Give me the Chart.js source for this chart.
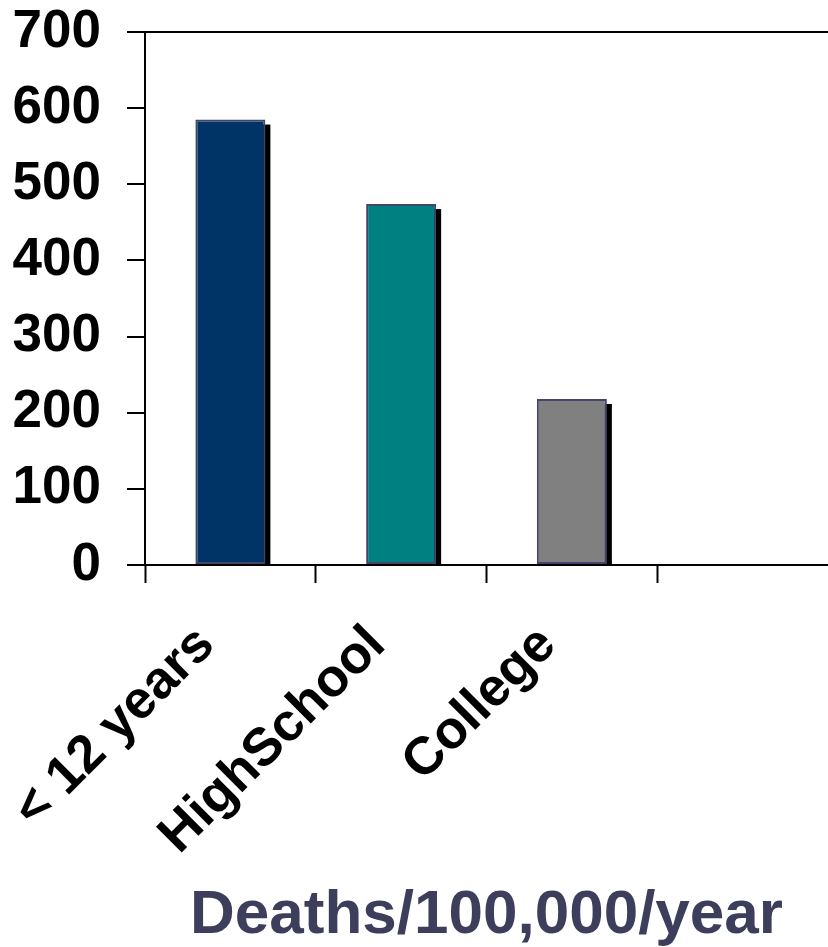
<!DOCTYPE html>
<html>
<head>
<meta charset="utf-8">
<style>
  html, body { margin: 0; padding: 0; background: #fff; }
  #wrap { width: 828px; height: 947px; }
</style>
<script src="https://cdn.jsdelivr.net/npm/chart.js@4/dist/chart.umd.min.js"></script>
</head>
<body>
<div id="wrap"><canvas id="c" width="828" height="947"></canvas></div>
<script>
const categories = ["< 12 years", "HighSchool", "College", ""];
const deaths = [585, 474, 218, null];
const barColors = ["#003366", "#008080", "#808080", "#808080"];
const yTicks = [0, 100, 200, 300, 400, 500, 600, 700];
const axisTitle = "Deaths/100,000/year";

const FONT = "'Liberation Sans', Arial, Helvetica, sans-serif";

const shadowPlugin = {
  id: 'barShadow',
  beforeDatasetsDraw(chart) {
    const ctx = chart.ctx;
    const area = chart.chartArea;
    const meta = chart.getDatasetMeta(0);
    ctx.save();
    ctx.beginPath();
    ctx.rect(area.left, area.top, area.right - area.left, area.bottom - area.top);
    ctx.clip();
    ctx.fillStyle = '#000';
    meta.data.forEach((bar, i) => {
      if (deaths[i] == null) return;
      const p = bar.getProps(['x', 'y', 'base', 'width'], true);
      ctx.fillRect(p.x - p.width / 2 + 5, p.y + 5, p.width, p.base - p.y);
    });
    ctx.restore();
  }
};

new Chart(document.getElementById('c'), {
  type: 'bar',
  data: {
    labels: categories,
    datasets: [{
      data: deaths,
      backgroundColor: barColors,
      borderColor: '#45456a',
      borderWidth: 2,
      borderSkipped: false,
      categoryPercentage: 1,
      barPercentage: 0.41
    }]
  },
  options: {
    responsive: false,
    animation: false,
    devicePixelRatio: 1,
    layout: { padding: { left: 0, top: 32, right: 0, bottom: 0 } },
    plugins: {
      legend: { display: false },
      tooltip: { enabled: false },
      title: { display: false }
    },
    scales: {
      y: {
        min: 0,
        max: 700,
        afterBuildTicks(scale) { scale.ticks = yTicks.map(v => ({ value: v })); },
        afterFit(scale) { scale.width = 145; scale.paddingTop = 0; scale.paddingBottom = 0; },
        ticks: {
          color: '#000',
          padding: 26,
          font: { family: FONT, size: 53, weight: 'bold' }
        },
        grid: {
          drawOnChartArea: true,
          color: c => (c.tick && c.tick.value === 700) ? '#000' : 'rgba(0,0,0,0)',
          lineWidth: 2,
          tickColor: '#000',
          tickWidth: 2,
          tickLength: 18
        },
        border: { display: true, color: '#000', width: 2 }
      },
      x: {
        afterFit(scale) { scale.height = 382; scale.paddingLeft = 0; scale.paddingRight = 0; },
        ticks: {
          color: '#000',
          minRotation: 45,
          maxRotation: 45,
          padding: 31,
          labelOffset: -24,
          font: { family: FONT, size: 53, weight: 'bold' }
        },
        grid: {
          drawOnChartArea: false,
          offset: true,
          tickColor: c => (c.type === 'tick') ? '#000' : 'rgba(0,0,0,0)',
          tickWidth: 2,
          tickLength: 18
        },
        border: { display: true, color: '#000', width: 2 },
        title: {
          display: true,
          text: axisTitle,
          color: '#3d3d5c',
          padding: { top: 0, bottom: -6 },
          font: { family: FONT, size: 62, weight: 'bold' }
        }
      }
    }
  },
  plugins: [shadowPlugin]
});
</script>
</body>
</html>
